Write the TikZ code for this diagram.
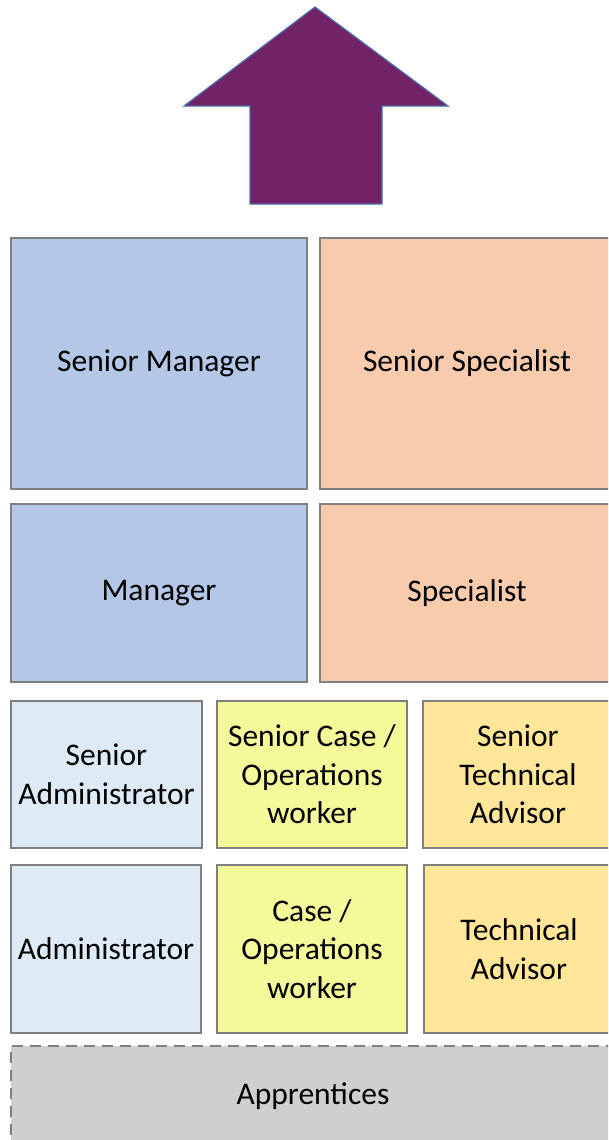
\documentclass[tikz,border=0pt]{standalone}
\usepackage{fontspec}
\setmainfont{Carlito}
\definecolor{edge}{HTML}{7F7F7F}
\definecolor{mgr}{HTML}{B4C7E7}
\definecolor{spec}{HTML}{F8CBAD}
\definecolor{adm}{HTML}{DEEBF7}
\definecolor{case}{HTML}{F4FA99}
\definecolor{tech}{HTML}{FFE699}
\definecolor{appr}{HTML}{CFCFCF}
\definecolor{arrowfill}{HTML}{722367}
\definecolor{arrowedge}{HTML}{4A6FA5}
\tikzset{
  rolebox/.style={draw=edge, line width=2pt, anchor=north west, align=center, inner sep=0pt,
    font=\fontsize{31.5}{38.5}\selectfont, text=black},
}
\begin{document}
\begin{tikzpicture}[x=1pt,y=-1pt]
\useasboundingbox (0,0) rectangle (608,1140);
\clip (0,0) rectangle (608,1140);
\fill[white] (0,0) rectangle (608,1140);
% arrow
\draw[fill=arrowfill, draw=arrowedge, line width=1.2pt, line join=miter]
  (315,7) -- (448,106) -- (382,106) -- (382,204) -- (250,204) -- (250,106) -- (184,106) -- cycle;
% row 1
\node[rolebox, fill=mgr, minimum width=296pt, minimum height=251pt] (smgr) at (10,237) {Senior Manager};
\node[rolebox, fill=spec, minimum width=294pt, minimum height=251pt] (sspec) at (319,237) {Senior Specialist};
% row 2
\node[rolebox, fill=mgr, minimum width=296pt, minimum height=178pt] (mgr) at (10,503) {Manager};
\node[rolebox, fill=spec, minimum width=294pt, minimum height=178pt] (spec) at (319,503) {Specialist};
% row 3
\node[rolebox, fill=adm, minimum width=191pt, minimum height=147pt] (sadm) at (10,700) {Senior\\Administrator};
\node[rolebox, fill=case, minimum width=190pt, minimum height=147pt] (scase) at (216,700) {Senior Case /\\Operations\\worker};
\node[rolebox, fill=tech, minimum width=190pt, minimum height=147pt] (stech) at (422,700) {Senior\\Technical\\Advisor};
% row 4
\node[rolebox, fill=adm, minimum width=190pt, minimum height=168pt] (adm) at (10,864) {Administrator};
\node[rolebox, fill=case, minimum width=190pt, minimum height=168pt] (case) at (216,864) {Case /\\Operations\\worker};
\node[rolebox, fill=tech, minimum width=190pt, minimum height=168pt] (tech) at (423,864) {Technical\\Advisor};
% apprentices
\node[rolebox, fill=appr, dash pattern=on 11pt off 7pt, minimum width=604pt, minimum height=100pt] (appr) at (10,1045) {Apprentices};
\end{tikzpicture}
\end{document}
